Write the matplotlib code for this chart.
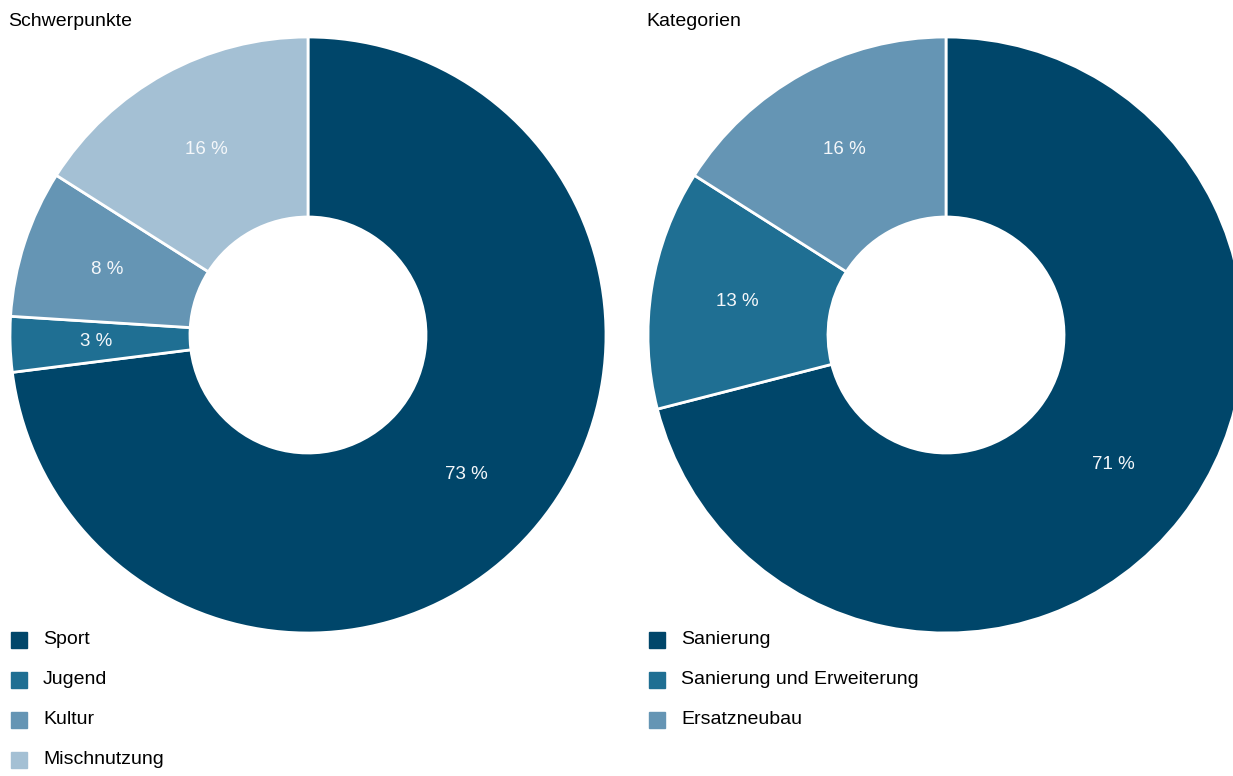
import matplotlib
matplotlib.use("Agg")
import matplotlib.pyplot as plt
from matplotlib.patches import Rectangle

plt.rcParams["font.family"] = ["Liberation Sans", "DejaVu Sans"]

left_title = "Schwerpunkte"
left_labels = ["Sport", "Jugend", "Kultur", "Mischnutzung"]
left_values = [73, 3, 8, 16]

right_title = "Kategorien"
right_labels = ["Sanierung", "Sanierung und Erweiterung", "Ersatzneubau"]
right_values = [71, 13, 16]

colors = ["#00466a", "#1f6f93", "#6595b4", "#a4c0d4"]

W, H = 1233, 776
fig = plt.figure(figsize=(W / 100, H / 100), dpi=100)


def donut(cx, title, labels, values):
    r = 298
    cy = 335
    ax = fig.add_axes([(cx - r) / W, (H - cy - r) / H, 2 * r / W, 2 * r / H])
    wedges, _, autotexts = ax.pie(
        values,
        colors=colors[: len(values)],
        startangle=90,
        counterclock=False,
        radius=1,
        autopct=lambda p: f"{p:.0f} %",
        pctdistance=0.71,
        wedgeprops=dict(width=0.604, edgecolor="white", linewidth=2),
        textprops=dict(color="#f4f7fa", fontsize=13.5),
    )
    ax.set_xlim(-1, 1)
    ax.set_ylim(-1, 1)
    ax.set_aspect("equal")
    ax.axis("off")

    fig.text((cx - 300) / W, 1 - 22 / H, title, fontsize=14, va="center", ha="left")

    for i, lab in enumerate(labels):
        y = 640 + 40 * i
        fig.patches.append(
            Rectangle(
                ((cx - 297) / W, 1 - (y + 8) / H),
                16 / W,
                16 / H,
                transform=fig.transFigure,
                color=colors[i],
                figure=fig,
            )
        )
        fig.text((cx - 265) / W, 1 - y / H, lab, fontsize=14, va="center", ha="left")


donut(308, left_title, left_labels, left_values)
donut(946, right_title, right_labels, right_values)

fig.savefig("out.png", dpi=100)
